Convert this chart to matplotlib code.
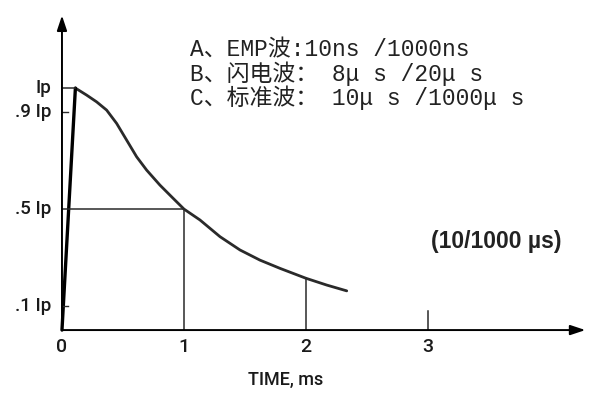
import matplotlib
matplotlib.use("Agg")
import matplotlib.pyplot as plt

# ---- data ----
time_ms = [0.0, 0.11, 0.202, 0.284, 0.366, 0.448, 0.530, 0.612, 0.694, 0.803, 0.912, 1.0,
           1.131, 1.295, 1.459, 1.623, 1.787, 2.0, 2.170, 2.334]
current = [0.0, 1.0, 0.971, 0.943, 0.909, 0.854, 0.785, 0.716, 0.661, 0.599, 0.544, 0.5,
           0.455, 0.386, 0.331, 0.289, 0.255, 0.214, 0.186, 0.162]
x_ticks = [0, 1, 2, 3]
x_tick_labels = ["0", "1", "2", "3"]
y_ticks = [1.0, 0.9, 0.5, 0.1]
y_tick_labels = ["Ip", ".9 Ip", ".5 Ip", ".1 Ip"]
legend_lines = ["A、EMP波:10ns /1000ns",
                "B、闪电波： 8μ s /20μ s",
                "C、标准波： 10μ s /1000μ s"]
wave_label = "(10/1000 µs)"
x_label = "TIME, ms"

fig = plt.figure(figsize=(6, 4), dpi=100)
ax = fig.add_axes([0, 0, 1, 1])
ax.set_xlim(-0.508, 4.410)
ax.set_ylim(-0.289, 1.364)
ax.axis("off")

lc = "#2a2a2a"
tfam = ["Roboto", "Liberation Sans", "DejaVu Sans"]
tcol = "#1a1a1a"

# axes with arrows
ax.annotate("", xy=(4.29, 0), xytext=(0, 0),
            arrowprops=dict(arrowstyle="-|>,head_length=0.9,head_width=0.3",
                            color="black", lw=1.4, shrinkA=0, shrinkB=0))
ax.annotate("", xy=(0, 1.30), xytext=(0, 0),
            arrowprops=dict(arrowstyle="-|>,head_length=0.9,head_width=0.3",
                            color="black", lw=1.4, shrinkA=0, shrinkB=0))

# curve
ax.plot(time_ms[1:], current[1:], color=lc, lw=2.0, solid_capstyle="round",
        solid_joinstyle="round")
ax.plot(time_ms[:2], current[:2], color="black", lw=2.4, solid_capstyle="round")

# guide lines
i_half = current.index(0.5)
i_two = time_ms.index(2.0)
ax.plot([0, time_ms[1]], [1.0, 1.0], color=lc, lw=1.1)
ax.plot([0, time_ms[i_half]], [0.5, 0.5], color=lc, lw=1.1)
ax.plot([time_ms[i_half], time_ms[i_half]], [0, 0.5], color=lc, lw=1.1)
ax.plot([time_ms[i_two], time_ms[i_two]], [0, current[i_two]], color=lc, lw=1.1)
ax.plot([3, 3], [0, 0.08], color=lc, lw=1.1)
for yv in (0.9, 0.1):
    ax.plot([0, 0.05], [yv, yv], color=lc, lw=1.0)

# tick labels
for xv, lab in zip(x_ticks, x_tick_labels):
    ax.text(xv, -0.072, lab, ha="center", va="center", fontsize=14,
            family=tfam, fontweight="medium", color=tcol)
for yv, lab in zip(y_ticks, y_tick_labels):
    ax.text(-0.085, yv, lab, ha="right", va="center", fontsize=13.5,
            family=tfam, fontweight="medium", color=tcol)
ax.text(1.83, -0.207, x_label, ha="center", va="center", fontsize=13,
        family=tfam, fontweight="medium", color=tcol)

# annotation text
for i, line in enumerate(legend_lines):
    ax.text(1.049, 1.157 - i * 0.099, line, ha="left", va="center", fontsize=16.5,
            family=["Liberation Mono", "Noto Sans CJK SC"], color="#222222")

ax.text(3.557, 0.366, wave_label, ha="center", va="center", fontsize=16.5,
        fontweight="bold", family=["Liberation Sans", "DejaVu Sans"], color="#222222")

fig.savefig("out.png", dpi=100)
